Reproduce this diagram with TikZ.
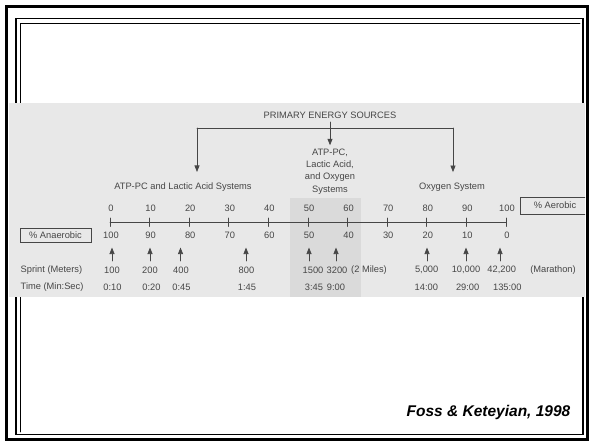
\documentclass[tikz,border=0pt]{standalone}
\usepackage{fontspec}
\setmainfont{Liberation Sans}
\usetikzlibrary{arrows.meta}
\definecolor{scan}{HTML}{E8E8E8}
\definecolor{scandark}{HTML}{DADADA}
\definecolor{ink}{HTML}{464646}

\begin{document}
\begin{tikzpicture}[x=1pt,y=-1pt,>={Triangle[length=6.5pt,width=5pt]},font=\fontsize{9.3}{12.2}\selectfont,line cap=round]
\useasboundingbox (0,0) rectangle (591,442);
% slide frame
\draw[line width=2.2pt] (6.5,6.5) rectangle (587.5,439.5);
\draw[line width=1.5pt] (16,18.5) rectangle (583,434.5);
\draw[line width=0.8pt] (20.5,432) -- (20.5,23.5) -- (580,23.5);
% scanned figure
\fill[scan] (9,103) rectangle (585,297);
\fill[scandark] (290,198) rectangle (361,297);
\begin{scope}[color=ink,line width=0.75pt]
\clip (9,103) rectangle (585,297);
\node (src) at (330,115) {PRIMARY ENERGY SOURCES};
\coordinate (bl) at (197,128);
\coordinate (br) at (453,128);
\node (lac) at (183,187) {ATP-PC and Lactic Acid Systems};
\node[align=center] (mix) at (330,171.5) {ATP-PC,\\Lactic Acid,\\and Oxygen\\Systems};
\node (oxy) at (452,187) {Oxygen System};
\draw (bl) -- (br);
\draw[->,shorten >=7pt] (bl) -- (bl |- lac.north);
\draw[->,shorten >=7pt] (br) -- (br |- oxy.north);
\draw[->] (src) -- (mix);
% scale
\draw (110,222) -- (506,222);
\foreach \i in {0,...,10} {
  \pgfmathtruncatemacro\up{10*\i}
  \pgfmathtruncatemacro\dn{100-10*\i}
  \draw (110+39.6*\i,218) -- (110+39.6*\i,226.5);
  \node (t\i) at (111+39.6*\i,208) {\up};
  \node (b\i) at (111+39.6*\i,235) {\dn};
}
\node[draw,line width=0.6pt,minimum width=71pt,minimum height=14pt] (anaer) at (55.5,235) {\% Anaerobic};
\node[draw,line width=0.6pt,minimum width=70pt,minimum height=17pt] (aer) at (555,205.5) {\% Aerobic};
% events
\node[anchor=west] (sprint) at (17,270) {Sprint (Meters)};
\node[anchor=west] (time) at (17,287) {Time (Min:Sec)};
\foreach \a/\sx/\m/\tx/\t [count=\n] in {112/112/100/112.5/0:10, 150/150/200/151.5/0:20,
    180.5/181/400/181.5/0:45, 246/246.5/800/247/1:45, 309/313/1500/314/3:45,
    336/337/3200/336/9:00, 427/426.7/{5,000}/426.3/14:00, 466/466/{10,000}/467.7/29:00,
    500/501.7/{42,200}/507.3/135:00} {
  \draw[->] (\a,261) coordinate (d\n) -- (\a,247.5) coordinate (u\n);
  \node (s\n) at (\sx,270) {\m};
  \node (m\n) at (\tx,287) {\t};
}
\node (miles) at (369,270) {(2 Miles)};
\node (mara) at (553,270) {(Marathon)};
\end{scope}
\node[font=\fontsize{15.5}{18}\selectfont\bfseries\itshape] (cite) at (488.5,412) {Foss \& Keteyian, 1998};
\end{tikzpicture}
\end{document}
